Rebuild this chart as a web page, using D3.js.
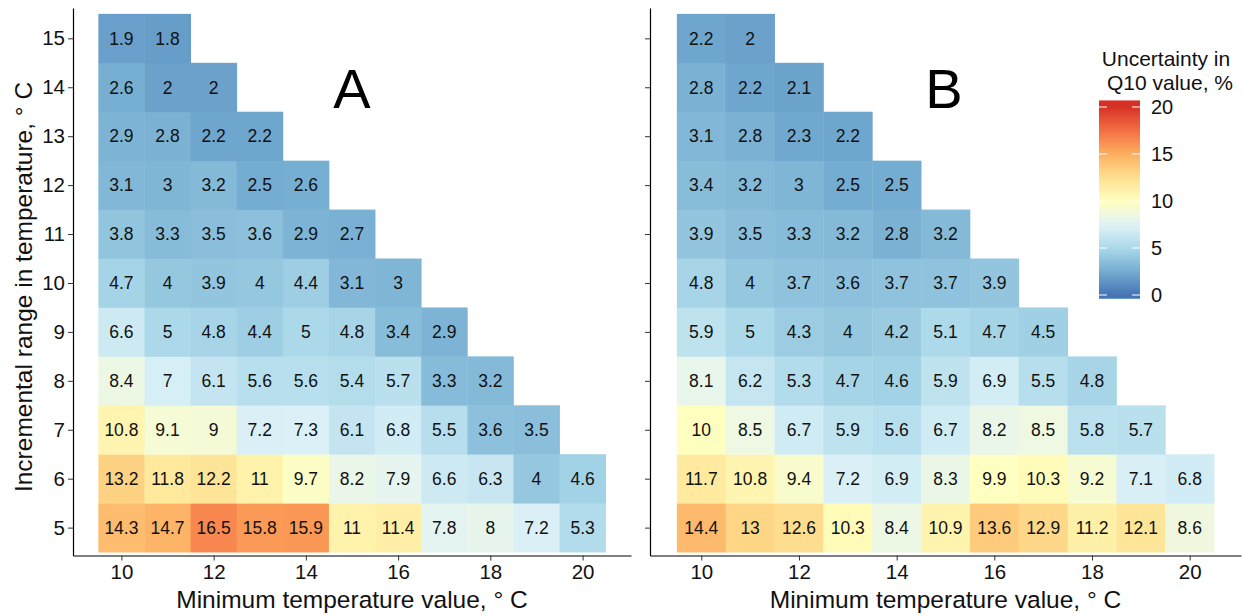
<!DOCTYPE html>
<html><head><meta charset="utf-8">
<script src="https://cdn.jsdelivr.net/npm/d3@7"></script>
<style>body{margin:0;background:#fff}svg{display:block;font-family:"Liberation Sans",Arial,sans-serif}</style>
</head><body><svg id="c" width="1244" height="616"></svg>
<script>
const minTemps = [10,11,12,13,14,15,16,17,18,19,20];
const ranges = [5,6,7,8,9,10,11,12,13,14,15];
const xTicks = [10,12,14,16,18,20];
const yTicks = [5,6,7,8,9,10,11,12,13,14,15];
const legendTicks = [0,5,10,15,20];
// rows by incremental range (5..15), values for min temp 10,11,...
const valuesA = [
  [14.3,14.7,16.5,15.8,15.9,11,11.4,7.8,8,7.2,5.3],
  [13.2,11.8,12.2,11,9.7,8.2,7.9,6.6,6.3,4,4.6],
  [10.8,9.1,9,7.2,7.3,6.1,6.8,5.5,3.6,3.5],
  [8.4,7,6.1,5.6,5.6,5.4,5.7,3.3,3.2],
  [6.6,5,4.8,4.4,5,4.8,3.4,2.9],
  [4.7,4,3.9,4,4.4,3.1,3],
  [3.8,3.3,3.5,3.6,2.9,2.7],
  [3.1,3,3.2,2.5,2.6],
  [2.9,2.8,2.2,2.2],
  [2.6,2,2],
  [1.9,1.8]
];
const valuesB = [
  [14.4,13,12.6,10.3,8.4,10.9,13.6,12.9,11.2,12.1,8.6],
  [11.7,10.8,9.4,7.2,6.9,8.3,9.9,10.3,9.2,7.1,6.8],
  [10,8.5,6.7,5.9,5.6,6.7,8.2,8.5,5.8,5.7],
  [8.1,6.2,5.3,4.7,4.6,5.9,6.9,5.5,4.8],
  [5.9,5,4.3,4,4.2,5.1,4.7,4.5],
  [4.8,4,3.7,3.6,3.7,3.7,3.9],
  [3.9,3.5,3.3,3.2,2.8,3.2],
  [3.4,3.2,3,2.5,2.5],
  [3.1,2.8,2.3,2.2],
  [2.8,2.2,2.1],
  [2.2,2]
];
const palette = ["#4575b4","#74add1","#abd9e9","#e0f3f8","#ffffbf","#fee090","#fdae61","#f46d43","#d73027"];

const color = d3.scaleLinear()
  .domain(palette.map((_,i)=>i*20/(palette.length-1)))
  .range(palette).interpolate(d3.interpolateLab).clamp(true);

const svg = d3.select("#c");

function toCells(vals){
  const out=[];
  vals.forEach((row,ri)=>row.forEach((v,ci)=>out.push({x:minTemps[ci],y:ranges[ri],v})));
  return out;
}

function panel(vals, left, right, label, labelX, showYLabels){
  const top=8, bottom=555.5;
  const x = d3.scaleLinear().domain([8.95,21.05]).range([left,right]);
  const y = d3.scaleLinear().domain([4.43,15.62]).range([bottom,top]);
  const g = svg.append("g");
  const cells = toCells(vals);
  g.selectAll("rect").data(cells).join("rect")
    .attr("x",d=>x(d.x-0.5)).attr("width",x(1)-x(0)+0.4)
    .attr("y",d=>y(d.y+0.5)).attr("height",y(0)-y(1)+0.4)
    .attr("fill",d=>color(d.v));
  g.selectAll("text.v").data(cells).join("text").attr("class","v")
    .attr("x",d=>x(d.x)).attr("y",d=>y(d.y)).attr("dy","0.36em")
    .attr("text-anchor","middle").attr("font-size",17.5).attr("fill","#111")
    .text(d=>d.v);
  const xa = g.append("g").attr("transform",`translate(0,${bottom})`)
    .call(d3.axisBottom(x).tickValues(xTicks).tickSize(5).tickPadding(4).tickSizeOuter(0));
  xa.select(".domain").attr("stroke","#000").attr("stroke-width",1.2);
  xa.selectAll(".tick line").attr("stroke","#333");
  xa.selectAll(".tick text").attr("font-size",20.5).attr("fill","#111").attr("font-family",'"Liberation Sans",Arial,sans-serif');
  const ya = g.append("g").attr("transform",`translate(${left},0)`)
    .call(d3.axisLeft(y).tickValues(yTicks).tickSize(5).tickPadding(3).tickSizeOuter(0)
      .tickFormat(showYLabels? d3.format("d") : ()=>""));
  ya.select(".domain").attr("stroke","#000").attr("stroke-width",1.2);
  ya.selectAll(".tick line").attr("stroke","#333");
  ya.selectAll(".tick text").attr("font-size",20.5).attr("fill","#111").attr("font-family",'"Liberation Sans",Arial,sans-serif');
  g.append("text").attr("x",(left+right)/2).attr("y",608).attr("text-anchor","middle")
    .attr("font-size",24.5).attr("fill","#111").text("Minimum temperature value,  \u00B0 C");
  g.append("text").attr("x",labelX).attr("y",108).attr("text-anchor","middle")
    .attr("font-size",56).attr("fill","#000").text(label);
}

panel(valuesA, 73, 631, "A", 352, true);
panel(valuesB, 650, 1241, "B", 944, false);

svg.append("text").attr("transform","translate(32,287) rotate(-90)")
  .attr("text-anchor","middle").attr("font-size",24.5).attr("fill","#111")
  .text("Incremental range in temperature,  \u00B0 C");

// legend
const lg = svg.append("g");
const ly = d3.scaleLinear().domain([0,20]).range([295,107]);
const grad = svg.append("defs").append("linearGradient").attr("id","lgd")
  .attr("x1","0").attr("y1","1").attr("x2","0").attr("y2","0");
d3.range(0,21,1).forEach(v=>grad.append("stop").attr("offset",v/20).attr("stop-color",color(v)));
lg.append("rect").attr("x",1099).attr("width",41).attr("y",ly(20)).attr("height",ly(0)-ly(20)).attr("fill","url(#lgd)");
lg.append("rect").attr("x",1099).attr("width",41).attr("y",ly(20.7)).attr("height",ly(20)-ly(20.7)).attr("fill",color(20));
lg.append("rect").attr("x",1099).attr("width",41).attr("y",ly(0)).attr("height",ly(-0.4)-ly(0)).attr("fill",color(0));
legendTicks.forEach(t=>{
  lg.append("line").attr("x1",1099).attr("x2",1107).attr("y1",ly(t)).attr("y2",ly(t)).attr("stroke","#fff").attr("stroke-width",1);
  lg.append("line").attr("x1",1132).attr("x2",1140).attr("y1",ly(t)).attr("y2",ly(t)).attr("stroke","#fff").attr("stroke-width",1);
  lg.append("text").attr("x",1151).attr("y",ly(t)).attr("dy","0.36em").attr("font-size",20).attr("fill","#111").text(t);
});
lg.append("text").attr("x",1166).attr("y",65.5).attr("text-anchor","middle").attr("font-size",21).attr("fill","#111").text("Uncertainty in");
lg.append("text").attr("x",1170).attr("y",90).attr("text-anchor","middle").attr("font-size",21).attr("fill","#111").text("Q10 value, %");
</script></body></html>
